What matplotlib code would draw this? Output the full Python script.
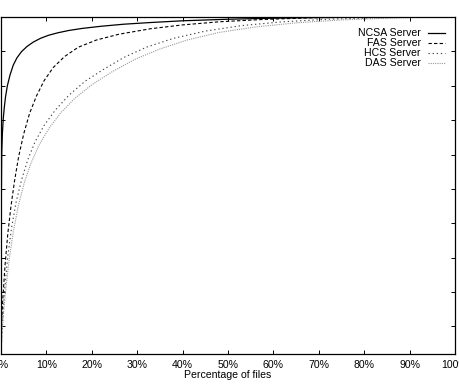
import matplotlib
matplotlib.use("Agg")
import matplotlib.pyplot as plt

plt.rcParams['font.family'] = ['Liberation Sans', 'DejaVu Sans']
plt.rcParams['font.size'] = 7.6

# percentage of files (x) vs cumulative percentage (y)
ncsa_x = [0, 0.03, 0.08, 0.15, 0.3, 0.5, 0.75, 1.0, 1.4, 2.0, 2.7, 3.5, 4.5, 5.7,
          7.1, 8.7, 10.5, 12.5, 15, 18, 22, 27, 33, 40, 50, 60, 70, 85, 100]
ncsa_y = [2, 25, 48, 60, 66, 70.5, 74, 76.8, 80, 83.2, 86, 88.1, 89.9, 91.4,
          92.7, 93.8, 94.7, 95.4, 96.1, 96.7, 97.3, 97.9, 98.4, 98.9, 99.35, 99.65,
          99.85, 99.97, 100]

fas_x = [0, 0.1, 0.4, 0.9, 1.5, 2.2, 3.0, 3.9, 5.0, 6.3, 7.8, 9.5, 11.5, 14, 17,
         21, 26, 33, 40, 48, 58, 68, 80, 100]
fas_y = [2, 10, 18, 28, 37, 45, 52.5, 59.5, 66, 72, 77, 81.5, 85.3, 88.5, 91.2,
         93.3, 95, 96.6, 97.7, 98.6, 99.3, 99.75, 99.95, 100]

hcs_x = [0, 0.2, 0.5, 0.9, 1.5, 2.3, 3.3, 4.5, 5.9, 7.5, 9.5, 12, 15, 18.5, 22.5,
         27, 32, 38, 45, 53, 62, 72, 82, 92, 100]
hcs_y = [2, 8, 15, 22, 30.5, 38.5, 46, 52.5, 58.5, 63.7, 68.5, 73, 77.3, 81.3, 84.7,
         88.2, 91.2, 93.8, 95.9, 97.5, 98.6, 99.35, 99.75, 99.95, 100]

das_x = [0, 0.25, 0.6, 1.1, 1.8, 2.7, 3.8, 5.1, 6.6, 8.4, 10.6, 13.2, 16.3, 20,
         24.5, 29.5, 35, 41, 48, 56, 65, 75, 85, 93, 100]
das_y = [2, 8, 14.5, 21.5, 29.5, 37.5, 45, 51.7, 57.5, 62.8, 67.7, 72.2, 76.4, 80.3,
         84.1, 87.7, 90.7, 93.3, 95.5, 97.1, 98.3, 99.15, 99.65, 99.9, 100]

names = ["NCSA Server", "FAS Server", "HCS Server", "DAS Server"]
xticks = list(range(0, 101, 10))

fig = plt.figure(figsize=(4.6, 3.87), dpi=100)
ax = fig.add_axes([1 / 460, 1 - 354 / 387, 454 / 460, 337 / 387])

styles = [
    dict(color='black', lw=0.9, linestyle='-'),
    dict(color='black', lw=0.8, linestyle=(0, (3, 2))),
    dict(color='#444444', lw=0.8, linestyle=(0, (1.2, 2.5))),
    dict(color='#999999', lw=0.8, linestyle=(0, (1, 1))),
]
series = [(ncsa_x, ncsa_y), (fas_x, fas_y), (hcs_x, hcs_y), (das_x, das_y)]

for (xs, ys), st in zip(series, styles):
    ax.plot(xs, ys, **st)

ax.set_xlim(0, 100)
ax.set_ylim(2, 100)
ax.set_xticks(xticks)
# the picture is cropped: "0%" and "100%" run off the edges on purpose
ax.set_xticklabels([f"{v}%" for v in xticks])
ax.set_yticks(range(10, 101, 10))
ax.set_yticklabels([])
ax.tick_params(direction='in', length=3, width=0.7, top=True, right=True, pad=4)
for sp in ax.spines.values():
    sp.set_linewidth(0.9)
ax.set_xlabel("Percentage of files", labelpad=0.5)

# gnuplot style key: right aligned text, sample to the right
for i, (name, st) in enumerate(zip(names, styles)):
    yy = 1 - (15.5 + 10 * i) / 337
    ax.text(0.925, yy, name, transform=ax.transAxes, ha='right', va='center')
    ax.plot([0.9405, 0.978], [yy, yy], transform=ax.transAxes, **st)

fig.savefig("out.png", dpi=100)
